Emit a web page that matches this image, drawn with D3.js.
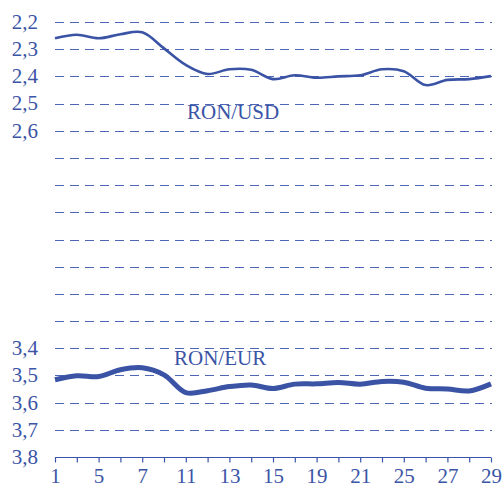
<!DOCTYPE html>
<html>
<head>
<meta charset="utf-8">
<script src="https://cdn.jsdelivr.net/npm/d3@7"></script>
<style>
  body { margin: 0; background: #fff; }
</style>
</head>
<body>
<div id="chart"></div>
<script>
// trading days of the month
var days = [1, 4, 5, 6, 7, 8, 11, 12, 13, 14, 15, 18, 19, 20, 21, 22, 25, 26, 27, 28, 29];
var dayLabels = ["1", "", "5", "", "7", "", "11", "", "13", "", "15", "", "19", "", "21", "", "25", "", "27", "", "29"];

var ronUsd = [2.260, 2.247, 2.260, 2.245, 2.238, 2.297, 2.358, 2.391, 2.374, 2.376, 2.410,
              2.396, 2.405, 2.400, 2.396, 2.374, 2.381, 2.432, 2.413, 2.410, 2.399];
var ronEur = [3.516, 3.501, 3.504, 3.479, 3.472, 3.498, 3.563, 3.556, 3.541, 3.535, 3.548,
              3.532, 3.531, 3.526, 3.532, 3.522, 3.525, 3.547, 3.550, 3.557, 3.531];

var yTicks = [2.2, 2.3, 2.4, 2.5, 2.6, 2.7, 2.8, 2.9, 3.0, 3.1, 3.2, 3.3, 3.4, 3.5, 3.6, 3.7, 3.8];
var yLabels = ["2,2", "2,3", "2,4", "2,5", "2,6", "", "", "", "", "", "", "", "3,4", "3,5", "3,6", "3,7", "3,8"];

var width = 504, height = 488;
var margin = {top: 22, right: 13, bottom: 31, left: 55};
var blue = "#3b54a6";
var serif = "'Liberation Serif'";

var svg = d3.select("#chart").append("svg")
    .attr("width", width)
    .attr("height", height);

//Scales (y inverted: small values on top)
var x = d3.scalePoint()
    .domain(days)
    .range([margin.left, width - margin.right]);

var y = d3.scaleLinear()
    .domain([2.2, 3.8])
    .range([margin.top, height - margin.bottom]);

// dashed grid lines
svg.append("g")
    .selectAll("line")
    .data(yTicks.slice(0, -1))
    .enter().append("line")
      .attr("x1", margin.left)
      .attr("x2", width - margin.right + 1)
      .attr("y1", function(d) { return Math.round(y(d)) + 0.5; })
      .attr("y2", function(d) { return Math.round(y(d)) + 0.5; })
      .attr("stroke", "#4d66b6")
      .attr("stroke-width", 1.2)
      .attr("stroke-dasharray", "9,6");

// y labels
svg.append("g")
    .selectAll("text")
    .data(yTicks)
    .enter().append("text")
      .attr("x", 38)
      .attr("y", function(d) { return y(d); })
      .attr("dy", "0.33em")
      .attr("text-anchor", "end")
      .attr("fill", blue)
      .style("font-family", serif)
      .style("font-size", "21px")
      .text(function(d, i) { return yLabels[i]; });

// x axis
var xAxis = d3.axisBottom(x)
    .tickSize(5)
    .tickPadding(6)
    .tickFormat(function(d, i) { return dayLabels[i]; });

var gx = svg.append("g")
    .attr("transform", "translate(0," + (Math.round(y(3.8)) + 0.5) + ")")
    .call(xAxis);
gx.select(".domain").attr("stroke", blue).attr("stroke-width", 1.2)
    .attr("d", "M" + x(days[0]) + ",0H" + x(days[days.length - 1]));
gx.selectAll(".tick line").attr("stroke", blue).attr("stroke-width", 1.2);
gx.selectAll(".tick text")
    .style("font-size", "21px")
    .style("font-family", serif)
    .attr("fill", blue);

// lines
var line = d3.line()
    .x(function(d, i) { return x(days[i]); })
    .y(function(d) { return y(d); })
    .curve(d3.curveCatmullRom);

svg.append("path")
    .datum(ronUsd)
    .attr("fill", "none")
    .attr("stroke", "#3a53a5")
    .attr("stroke-width", 2.6)
    .attr("d", line);

svg.append("path")
    .datum(ronEur)
    .attr("fill", "none")
    .attr("stroke", "#3a53a5")
    .attr("stroke-width", 5)
    .attr("d", line);

// series names
svg.append("text")
    .attr("x", 187)
    .attr("y", 119)
    .attr("fill", blue)
    .style("font-family", serif)
    .style("font-size", "21px")
    .text("RON/USD");

svg.append("text")
    .attr("x", 174)
    .attr("y", 365)
    .attr("fill", blue)
    .style("font-family", serif)
    .style("font-size", "21px")
    .text("RON/EUR");
</script>
</body>
</html>
